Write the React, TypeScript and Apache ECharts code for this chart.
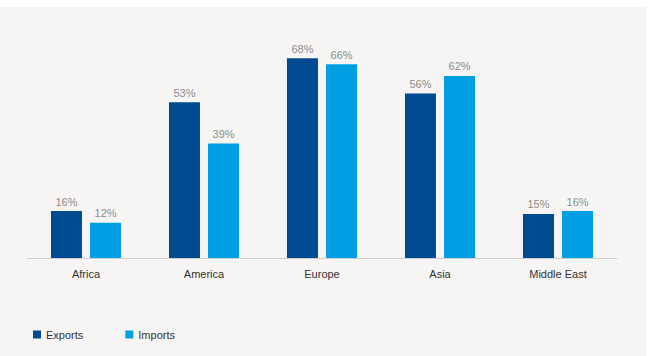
import React, { useEffect, useRef } from "react";
import * as echarts from "echarts";

const categories = ["Africa", "America", "Europe", "Asia", "Middle East"];
const exportsData = [16, 53, 68, 56, 15];
const importsData = [12, 39, 66, 62, 16];
const seriesNames = ["Exports", "Imports"];

export default function App() {
  const ref = useRef<HTMLDivElement>(null);
  useEffect(() => {
    if (!ref.current) return;
    const chart = echarts.init(ref.current, null, { renderer: "svg" });
    const font = "'Liberation Sans', Arial, Helvetica, sans-serif";
    const labelStyle = {
      show: true,
      position: "top" as const,
      distance: 4,
      formatter: "{c}%",
      color: "#8c8c8c",
      fontSize: 11,
      fontFamily: font,
    };
    chart.setOption({
      animation: false,
      backgroundColor: "#f6f5f3",
      grid: { left: 27, right: 29, top: 19, bottom: 98, containLabel: false },
      legend: {
        left: 28,
        top: 317,
        itemWidth: 8,
        itemHeight: 8,
        itemGap: 42,
        icon: "rect",
        textStyle: { color: "#333", fontSize: 11, fontFamily: font, padding: [0, 0, 0, 0] },
        data: seriesNames,
      },
      xAxis: {
        type: "category",
        data: categories,
        axisLine: { lineStyle: { color: "#cfcfcf", width: 1 } },
        axisTick: { show: false },
        axisLabel: { color: "#333", fontSize: 11, fontFamily: font, margin: 10 },
      },
      yAxis: {
        type: "value",
        min: 0,
        max: 79,
        show: false,
        splitLine: { show: false },
      },
      series: [
        {
          name: seriesNames[0],
          type: "bar",
          data: exportsData,
          barWidth: 31,
          barGap: "26%",
          itemStyle: { color: "#004a91" },
          label: labelStyle,
        },
        {
          name: seriesNames[1],
          type: "bar",
          data: importsData,
          barWidth: 31,
          itemStyle: { color: "#009fe3" },
          label: labelStyle,
        },
      ],
    });
    return () => chart.dispose();
  }, []);
  return (
    <div
      ref={ref}
      style={{ position: "absolute", left: 0, top: 7, width: 646, height: 349 }}
    />
  );
}
